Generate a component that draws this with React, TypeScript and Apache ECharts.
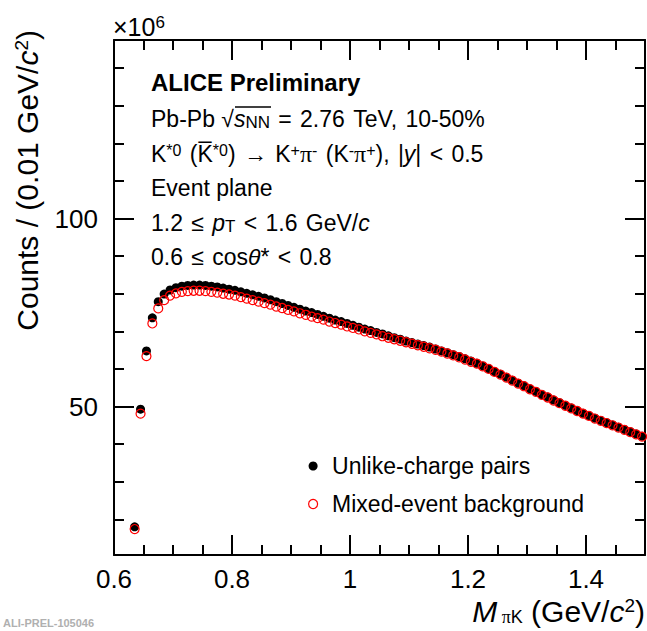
import React, { useEffect, useRef } from "react";
import * as echarts from "echarts";

// Bin centres of the invariant-mass histogram (GeV/c^2)
const massBins = [
  0.635, 0.645, 0.655, 0.665, 0.675, 0.685, 0.695, 0.705, 0.715, 0.725,
  0.735, 0.745, 0.755, 0.765, 0.775, 0.785, 0.795, 0.805, 0.815, 0.825,
  0.835, 0.845, 0.855, 0.865, 0.875, 0.885, 0.895, 0.905, 0.915, 0.925,
  0.935, 0.945, 0.955, 0.965, 0.975, 0.985, 0.995, 1.005, 1.015, 1.025,
  1.035, 1.045, 1.055, 1.065, 1.075, 1.085, 1.095, 1.105, 1.115, 1.125,
  1.135, 1.145, 1.155, 1.165, 1.175, 1.185, 1.195, 1.205, 1.215, 1.225,
  1.235, 1.245, 1.255, 1.265, 1.275, 1.285, 1.295, 1.305, 1.315, 1.325,
  1.335, 1.345, 1.355, 1.365, 1.375, 1.385, 1.395, 1.405, 1.415, 1.425,
  1.435, 1.445, 1.455, 1.465, 1.475, 1.485, 1.495,
];

// Counts (x10^6) – unlike-charge pairs
const unlikeCharge = [
  18.0, 49.3, 64.8, 73.6, 77.9, 79.9, 81.0, 81.6, 82.0, 82.2,
  82.3, 82.3, 82.2, 82.0, 81.8, 81.5, 81.2, 80.9, 80.5, 80.1,
  79.7, 79.3, 78.9, 78.4, 77.9, 77.4, 76.9, 76.4, 75.9, 75.4,
  75.0, 74.5, 74.0, 73.5, 73.0, 72.6, 72.1, 71.6, 71.1, 70.6,
  70.2, 69.7, 69.3, 68.8, 68.3, 67.9, 67.4, 67.0, 66.6, 66.2,
  65.8, 65.3, 64.8, 64.3, 63.8, 63.3, 62.7, 62.1, 61.5, 60.8,
  60.1, 59.3, 58.6, 57.8, 57.0, 56.2, 55.5, 54.7, 54.0, 53.2,
  52.5, 51.7, 51.0, 50.3, 49.6, 48.9, 48.2, 47.6, 46.9, 46.3,
  45.7, 45.1, 44.5, 43.9, 43.3, 42.7, 42.1,
];

// Counts (x10^6) – mixed-event background
const mixedEvent = [
  17.4, 48.1, 63.4, 72.1, 76.1, 78.3, 79.5, 80.1, 80.5, 80.7,
  80.8, 80.8, 80.7, 80.5, 80.3, 80.0, 79.8, 79.5, 79.1, 78.7,
  78.3, 77.9, 77.5, 77.1, 76.6, 76.2, 75.7, 75.3, 74.8, 74.4,
  73.9, 73.5, 73.1, 72.6, 72.2, 71.8, 71.3, 70.9, 70.5, 70.0,
  69.6, 69.2, 68.7, 68.3, 67.9, 67.5, 67.1, 66.7, 66.3, 65.9,
  65.5, 65.1, 64.6, 64.1, 63.6, 63.1, 62.5, 61.9, 61.4, 60.7,
  60.0, 59.2, 58.5, 57.7, 56.9, 56.1, 55.4, 54.6, 53.9, 53.1,
  52.4, 51.6, 50.9, 50.2, 49.5, 48.8, 48.1, 47.5, 46.8, 46.2,
  45.6, 45.0, 44.4, 43.8, 43.2, 42.6, 42.0,
];

const seriesNames = ["Unlike-charge pairs", "Mixed-event background"];

const xMajorTicks = [0.6, 0.8, 1.0, 1.2, 1.4];
const xMinorTicks = [0.65, 0.7, 0.75, 0.85, 0.9, 0.95, 1.05, 1.1, 1.15, 1.25, 1.3, 1.35, 1.45];
const yMajorTicks = [50, 100];
const yMinorTicks = [20, 30, 40, 60, 70, 80, 90, 110, 120, 130, 140];

const X_MIN = 0.6;
const X_MAX = 1.5;
const Y_MIN = 10.5;
const Y_MAX = 147.5;

const FONT = "'Liberation Sans', Arial, Helvetica, sans-serif";
const SERIF = "'Liberation Serif', 'Times New Roman', serif";

const GRID = { left: 114, right: 2, top: 40, bottom: 76 };

export default function App() {
  const ref = useRef<HTMLDivElement>(null);

  useEffect(() => {
    if (!ref.current) return;
    const chart = echarts.init(ref.current, undefined, { renderer: "svg" });

    const line = { color: "#000", width: 2 };
    const tickStyle = { color: "#000", width: 2 };

    const xAxisBase = (
      position: "top" | "bottom",
      ticks: number[],
      len: number,
      labels: boolean,
      gridIndex: number,
      showLine: boolean
    ) => ({
      type: "value",
      gridIndex,
      position,
      min: X_MIN,
      max: X_MAX,
      axisLine: { show: showLine, onZero: false, lineStyle: line },
      axisTick: { show: true, inside: true, length: len, customValues: ticks, lineStyle: tickStyle },
      axisLabel: labels
        ? {
            show: true,
            customValues: xMajorTicks,
            formatter: (v: number) => String(Number(v.toFixed(2))),
            fontSize: 26,
            fontFamily: FONT,
            color: "#000",
            margin: 11,
          }
        : { show: false },
      splitLine: { show: false },
    });

    const yAxisBase = (
      position: "left" | "right",
      ticks: number[],
      len: number,
      labels: boolean,
      gridIndex: number,
      showLine: boolean
    ) => ({
      type: "value",
      gridIndex,
      position,
      min: Y_MIN,
      max: Y_MAX,
      axisLine: { show: showLine, onZero: false, lineStyle: line },
      axisTick: { show: true, inside: true, length: len, customValues: ticks, lineStyle: tickStyle },
      axisLabel: labels
        ? {
            show: true,
            customValues: yMajorTicks,
            fontSize: 26,
            fontFamily: FONT,
            color: "#000",
            margin: 16,
          }
        : { show: false },
      splitLine: { show: false },
    });

    const base = { fontSize: 23, fontFamily: FONT, color: "#000", lineHeight: 24, verticalAlign: "middle" };
    const rich = {
      a: { ...base },
      s: { ...base, fontSize: 30 },
      b: { ...base, fontWeight: "bold", fontSize: 24 },
      i: { ...base, fontStyle: "italic" },
      pi: { ...base, fontFamily: SERIF, fontSize: 24 },
      sub: { fontSize: 17, fontFamily: FONT, color: "#000", lineHeight: 4, verticalAlign: "bottom" },
      sup: { fontSize: 16, fontFamily: FONT, color: "#000", lineHeight: 10, verticalAlign: "top" },
    };

    const textLine = (y: number, text: string) => ({
      type: "text",
      x: 151,
      y,
      style: { text, rich, align: "left", verticalAlign: "middle", fill: "#000" },
    });

    const titleRich = {
      a: { fontSize: 30, fontFamily: FONT, color: "#000", lineHeight: 30, verticalAlign: "middle" },
      i: { fontSize: 30, fontFamily: FONT, fontStyle: "italic", color: "#000", lineHeight: 30, verticalAlign: "middle" },
      sub: { fontSize: 18, fontFamily: FONT, color: "#000", lineHeight: 6, verticalAlign: "bottom" },
      subpi: { fontSize: 18, fontFamily: SERIF, color: "#000", lineHeight: 6, verticalAlign: "bottom" },
      sup: { fontSize: 19, fontFamily: FONT, color: "#000", lineHeight: 12, verticalAlign: "top" },
    };

    chart.setOption({
      animation: false,
      backgroundColor: "#fff",
      grid: [
        { ...GRID, containLabel: false },
        { ...GRID, containLabel: false },
      ],
      xAxis: [
        xAxisBase("bottom", xMajorTicks, 20, true, 0, true),
        xAxisBase("top", xMajorTicks, 20, false, 0, true),
        xAxisBase("bottom", xMinorTicks, 10, false, 1, false),
        xAxisBase("top", xMinorTicks, 10, false, 1, false),
      ],
      yAxis: [
        yAxisBase("left", yMajorTicks, 20, true, 0, true),
        yAxisBase("right", yMajorTicks, 20, false, 0, true),
        yAxisBase("left", yMinorTicks, 10, false, 1, false),
        yAxisBase("right", yMinorTicks, 10, false, 1, false),
      ],
      legend: {
        show: true,
        orient: "vertical",
        left: 308,
        top: 454,
        padding: 0,
        itemWidth: 28,
        itemHeight: 9,
        itemGap: 14,
        selectedMode: false,
        symbolKeepAspect: true,
        textStyle: { fontSize: 23, fontFamily: FONT, color: "#000", lineHeight: 24 },
        data: [
          { name: seriesNames[0], icon: "circle", itemStyle: { color: "#000", borderWidth: 0 } },
          {
            name: seriesNames[1],
            icon: "circle",
            itemStyle: { color: "#fff", borderColor: "#ff0000", borderWidth: 1.2 },
          },
        ],
      },
      series: [
        {
          name: seriesNames[0],
          type: "scatter",
          xAxisIndex: 0,
          yAxisIndex: 0,
          symbol: "circle",
          symbolSize: 9,
          itemStyle: { color: "#000", opacity: 1 },
          data: massBins.map((m, k) => [m, unlikeCharge[k]]),
          z: 2,
        },
        {
          name: seriesNames[1],
          type: "scatter",
          xAxisIndex: 0,
          yAxisIndex: 0,
          symbol: "circle",
          symbolSize: 9,
          itemStyle: { color: "rgba(255,255,255,0)", borderColor: "#ff0000", borderWidth: 1.2, opacity: 1 },
          data: massBins.map((m, k) => [m, mixedEvent[k]]),
          z: 3,
        },
      ],
      graphic: [
        textLine(82, "{b|ALICE Preliminary}"),
        textLine(119, "{a|Pb-Pb √}{i|s}{sub|NN}{s| }{a|=}{s| }{a|2.76}{s| }{a|TeV,}{s| }{a|10-50%}"),
        textLine(
          154,
          "{a|K}{sup|*0}{s| }{a|(K\u0305}{sup|*0}{a|)}{s| }{a|→}{s| }{a|K}{sup|+}{pi|π}{sup|-}{s| }{a|(K}{sup|-}{pi|π}{sup|+}{a|),}{s| }{a||}{i|y}{a||}{s| }{a|<}{s| }{a|0.5}"
        ),
        textLine(188, "{a|Event plane}"),
        textLine(223, "{a|1.2}{s| }{a|≤}{s| }{i|p}{sub|T}{s| }{a|<}{s| }{a|1.6}{s| }{a|GeV/}{i|c}"),
        textLine(257, "{a|0.6}{s| }{a|≤}{s| }{a|cos}{i|θ}{a|*}{s| }{a|<}{s| }{a|0.8}"),
        {
          type: "line",
          shape: { x1: 235, y1: 107, x2: 271, y2: 107 },
          style: { stroke: "#000", lineWidth: 1.3 },
        },
        {
          type: "text",
          x: 113,
          y: 27,
          style: {
            text: "{a|×10}{sup|6}",
            rich: {
              a: { fontSize: 25, fontFamily: FONT, color: "#000", lineHeight: 26, verticalAlign: "middle" },
              sup: { fontSize: 17, fontFamily: FONT, color: "#000", lineHeight: 12, verticalAlign: "top" },
            },
            align: "left",
            verticalAlign: "middle",
          },
        },
        {
          type: "text",
          x: 645,
          y: 611,
          style: {
            text: "{i|M}{subpi| π}{sub|K}{a| (GeV/}{i|c}{sup|2}{a|)}",
            rich: titleRich,
            align: "right",
            verticalAlign: "middle",
          },
        },
        {
          type: "text",
          x: 27,
          y: 30,
          rotation: Math.PI / 2,
          style: {
            text: "{a|Counts / (0.01 GeV/}{i|c}{sup|2}{a|)}",
            rich: titleRich,
            align: "right",
            verticalAlign: "middle",
          },
        },
        {
          type: "text",
          x: 3,
          y: 617,
          style: {
            text: "ALI-PREL-105046",
            fontSize: 11,
            fontWeight: "bold",
            fontFamily: FONT,
            fill: "#b0b0b0",
            align: "left",
            verticalAlign: "top",
          },
        },
      ],
    });

    return () => chart.dispose();
  }, []);

  return (
    <div
      ref={ref}
      style={{ position: "absolute", left: 0, top: 0, width: 647, height: 631, background: "#fff" }}
    />
  );
}
